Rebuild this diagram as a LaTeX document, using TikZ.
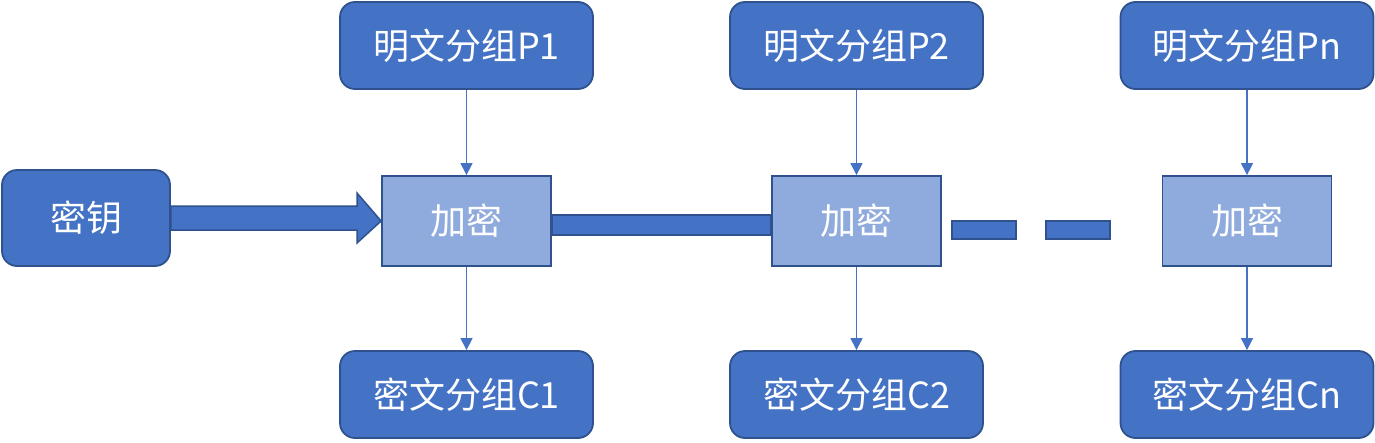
\documentclass[tikz,border=0pt]{standalone}
\usepackage{fontspec}
\newfontfamily\cjk{Noto Sans CJK SC}
\usetikzlibrary{arrows.meta}
\definecolor{darkfill}{HTML}{4472C4}
\definecolor{lightfill}{HTML}{8FAADC}
\definecolor{edgeblue}{HTML}{2F528F}
\begin{document}
\begin{tikzpicture}[x=1pt,y=-1pt,
  txt/.style={text=white,font=\cjk\fontsize{36}{40}\selectfont},
  darkbox/.style={txt,draw=edgeblue,line width=1.8pt,fill=darkfill,rounded corners=15pt,minimum width=253pt,minimum height=87pt,inner sep=0pt},
  keybox/.style={darkbox,minimum width=168pt,minimum height=96pt},
  encbox/.style={txt,draw=edgeblue,line width=1.8pt,fill=lightfill,minimum width=169pt,minimum height=90pt,inner sep=0pt},
  thin/.style={draw=darkfill,line width=1.2pt,-{Triangle[width=12pt,length=12pt]}},
  bar/.style={draw=edgeblue,line width=1.5pt,fill=darkfill}]
\useasboundingbox (0,0) rectangle (1375,442);
\fill[white] (0,0) rectangle (1375,442);
% key
\node[keybox] (key) at (86,218) {密钥};
% top boxes
\node[darkbox] (p1) at (466.5,45.5) {明文分组P1};
\node[darkbox] (p2) at (856.5,45.5) {明文分组P2};
\node[darkbox] (pn) at (1247,45.5) {明文分组Pn};
% encryption boxes
\node[encbox] (e1) at (466.5,221) {加密};
\node[encbox] (e2) at (856.5,221) {加密};
\node[encbox] (en) at (1247,221) {加密};
% bottom boxes
\node[darkbox] (c1) at (466.5,394.5) {密文分组C1};
\node[darkbox] (c2) at (856.5,394.5) {密文分组C2};
\node[darkbox] (cn) at (1247,394.5) {密文分组Cn};
% thin arrows
\draw[thin] (p1.south) -- (e1.north);
\draw[thin] (p2.south) -- (e2.north);
\draw[thin] (pn.south) -- (en.north);
\draw[thin] (e1.south) -- (c1.north);
\draw[thin] (e2.south) -- (c2.north);
\draw[thin] (en.south) -- (cn.north);
% block arrow from key to e1
\draw[bar] (key.east |- 0,206) -- (357,206) -- (357,193) -- (e1.west) -- (357,243) -- (357,230) -- (key.east |- 0,230) -- cycle;
% bar e1 -> e2
\draw[bar] (e1.east |- 0,215) rectangle (e2.west |- 0,235);
% dashes
\coordinate (d1a) at (952,221);
\coordinate (d1b) at (1016,239);
\coordinate (d2a) at (1046,221);
\coordinate (d2b) at (1110,239);
\draw[bar] (d1a) rectangle (d1b);
\draw[bar] (d2a) rectangle (d2b);
\end{tikzpicture}
\end{document}
